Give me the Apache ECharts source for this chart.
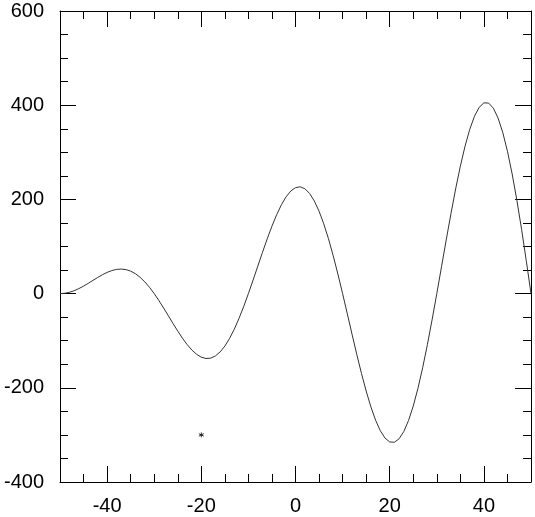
<!DOCTYPE html>
<html>
<head>
<meta charset="utf-8">
<script src="https://cdn.jsdelivr.net/npm/echarts@6/dist/echarts.min.js"></script>
<style>
html,body{margin:0;padding:0;background:#fff;}
#chart{width:535px;height:517px;}
</style>
</head>
<body>
<div id="chart"></div>
<script>
// sampled x positions
const xValues = [-50,-49,-48,-47,-46,-45,-44,-43,-42,-41,
  -40,-39,-38,-37,-36,-35,-34,-33,-32,-31,
  -30,-29,-28,-27,-26,-25,-24,-23,-22,-21,
  -20,-19,-18,-17,-16,-15,-14,-13,-12,-11,
  -10,-9,-8,-7,-6,-5,-4,-3,-2,-1,
  0,1,2,3,4,5,6,7,8,9,
  10,11,12,13,14,15,16,17,18,19,
  20,21,22,23,24,25,26,27,28,29,
  30,31,32,33,34,35,36,37,38,39,
  40,41,42,43,44,45,46,47,48,49,
  50];
// curve values
const yValues = [0, 0.7, 2.8, 6.1, 10.6, 15.9, 21.8, 28.1, 34.2, 40.0,
  45.0, 48.9, 51.4, 52.1, 51.0, 47.7, 42.3, 34.7, 25.0, 13.4,
  0, -14.8, -30.6, -47.0, -63.5, -79.6, -94.7, -108.3, -119.8, -128.9,
  -135.0, -137.8, -137.0, -132.3, -123.8, -111.4, -95.2, -75.6, -52.8, -27.4,
  0, 28.9, 58.4, 87.8, 116.4, 143.2, 167.5, 188.4, 205.4, 217.8,
  225.0, 226.7, 222.6, 212.5, 196.6, 175.0, 148.1, 116.5, 80.6, 41.5,
  0, -42.9, -86.2, -128.7, -169.3, -206.8, -240.3, -268.6, -291.0, -306.7,
  -315.0, -315.6, -308.2, -292.7, -269.4, -238.7, -201.0, -157.3, -108.5, -55.6,
  0, 57.0, 114.0, 169.6, 222.2, 270.5, 313.1, 348.8, 376.6, 395.6,
  405.0, 404.5, 393.8, 372.9, 342.2, 302.3, 253.9, 198.2, 136.3, 69.7,
  0];
// single marker point
const markerPoint = [-20, -300];

const xMin = -50, xMax = 50;
const yMin = -400, yMax = 600, yStep = 200;

const lineData = xValues.map((x, i) => [x, yValues[i]]);

const fontFamily = '"Liberation Sans", Arial, sans-serif';
const axisCommon = {
  axisLine: {show: true, onZero: false, lineStyle: {color: '#000', width: 1}},
  axisTick: {show: true, inside: true, length: 16, lineStyle: {color: '#000', width: 1}},
  minorTick: {show: true, splitNumber: 4, length: 8, lineStyle: {color: '#000', width: 1}},
  splitLine: {show: false},
  minorSplitLine: {show: false}
};

const chart = echarts.init(document.getElementById('chart'), null, {renderer: 'canvas'});
chart.setOption({
  animation: false,
  backgroundColor: '#fff',
  grid: {left: 60, right: 4, top: 11, bottom: 35, containLabel: false},
  xAxis: [
    Object.assign({}, axisCommon, {
      type: 'value', position: 'bottom', min: xMin, max: xMax,
      axisLabel: {show: true, margin: 14, color: '#000', fontSize: 20, fontFamily: fontFamily,
        showMinLabel: false, showMaxLabel: false}
    }),
    Object.assign({}, axisCommon, {
      type: 'value', position: 'top', min: xMin, max: xMax,
      axisLabel: {show: false}
    })
  ],
  yAxis: [
    Object.assign({}, axisCommon, {
      type: 'value', position: 'left', min: yMin, max: yMax, interval: yStep,
      axisLabel: {show: true, margin: 16, color: '#000', fontSize: 20, fontFamily: fontFamily}
    }),
    Object.assign({}, axisCommon, {
      type: 'value', position: 'right', min: yMin, max: yMax, interval: yStep,
      axisLabel: {show: false}
    })
  ],
  series: [
    {
      type: 'line', xAxisIndex: 0, yAxisIndex: 0,
      data: lineData, showSymbol: false, symbol: 'none', smooth: false,
      lineStyle: {color: '#333', width: 1}
    },
    {
      type: 'scatter', xAxisIndex: 0, yAxisIndex: 0,
      data: [markerPoint],
      symbol: 'path://M0,-1L0,1M-0.87,-0.5L0.87,0.5M-0.87,0.5L0.87,-0.5',
      symbolSize: 5,
      itemStyle: {color: 'none', borderColor: '#000', borderWidth: 1}
    }
  ]
});
</script>
</body>
</html>
